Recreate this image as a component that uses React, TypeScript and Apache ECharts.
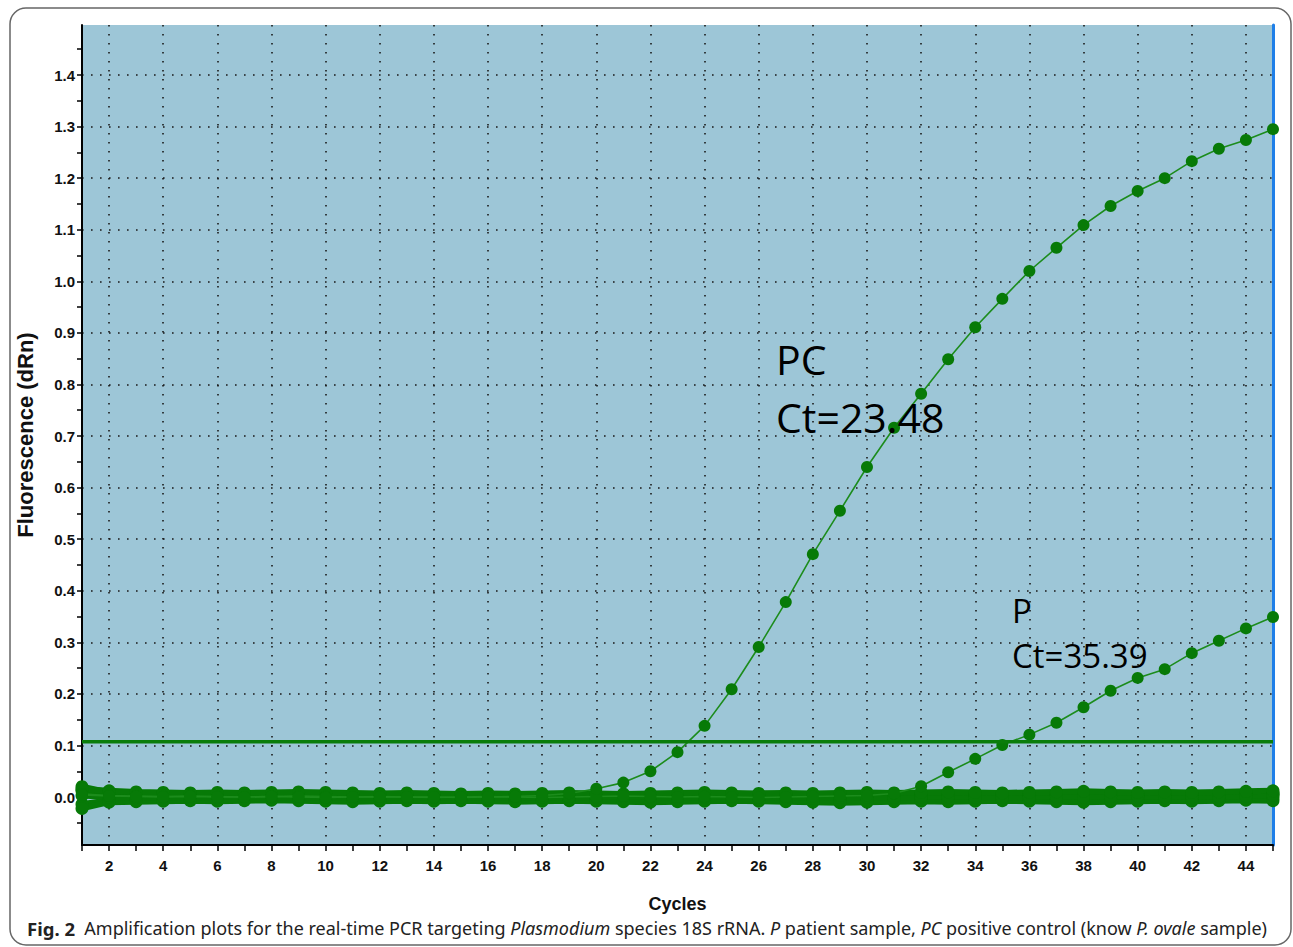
import { useEffect, useRef } from 'react';
import * as echarts from 'echarts';

const cycles = [1, 2, 3, 4, 5, 6, 7, 8, 9, 10, 11, 12, 13, 14, 15, 16, 17, 18, 19, 20, 21, 22, 23, 24, 25, 26, 27, 28, 29, 30, 31, 32, 33, 34, 35, 36, 37, 38, 39, 40, 41, 42, 43, 44, 45];

const pcValues = [0.004, 0.002, 0.001, 0.0, 0.001, 0.0, 0.0, 0.001, 0.0, -0.001, 0.0, 0.0, 0.0, 0.0, -0.001, 0.0, 0.001, 0.003, 0.007, 0.016, 0.028, 0.05, 0.087, 0.138, 0.209, 0.291, 0.378, 0.471, 0.555, 0.64, 0.716, 0.782, 0.849, 0.911, 0.966, 1.02, 1.065, 1.109, 1.146, 1.175, 1.2, 1.233, 1.257, 1.274, 1.295];

const pValues = [0.006, 0.003, 0.002, 0.001, 0.002, 0.001, 0.0, 0.001, 0.002, 0.001, 0.0, 0.001, 0.0, -0.001, 0.0, 0.001, 0.0, -0.001, 0.0, 0.001, 0.002, 0.001, 0.0, 0.001, 0.0, -0.001, 0.0, 0.001, 0.002, 0.003, 0.007, 0.021, 0.048, 0.074, 0.101, 0.121, 0.144, 0.174, 0.206, 0.231, 0.248, 0.279, 0.303, 0.327, 0.349];

const neg1 = [0.012, 0.006, 0.004, 0.003, 0.002, 0.003, 0.002, 0.003, 0.002, 0.001, 0.002, 0.001, 0.002, 0.001, 0.002, 0.001, 0.0, 0.001, 0.002, 0.001, 0.002, 0.001, 0.002, 0.001, 0.002, 0.003, 0.002, 0.001, 0.002, 0.003, 0.002, 0.001, 0.002, 0.003, 0.002, 0.003, 0.004, 0.003, 0.002, 0.003, 0.004, 0.003, 0.004, 0.005, 0.006];
const neg2 = [-0.014, -0.006, -0.004, -0.005, -0.004, -0.003, -0.004, -0.003, -0.004, -0.005, -0.004, -0.005, -0.004, -0.003, -0.004, -0.005, -0.006, -0.005, -0.004, -0.005, -0.004, -0.005, -0.006, -0.005, -0.004, -0.003, -0.004, -0.005, -0.006, -0.005, -0.004, -0.005, -0.004, -0.003, -0.004, -0.005, -0.004, -0.005, -0.004, -0.003, -0.004, -0.005, -0.004, -0.003, -0.002];
const neg3 = [0.02, 0.009, 0.008, 0.007, 0.006, 0.005, 0.006, 0.005, 0.004, 0.005, 0.004, 0.003, 0.004, 0.005, 0.004, 0.003, 0.002, 0.003, 0.004, 0.005, 0.004, 0.003, 0.004, 0.005, 0.006, 0.005, 0.004, 0.005, 0.004, 0.005, 0.006, 0.005, 0.004, 0.005, 0.006, 0.005, 0.006, 0.007, 0.006, 0.005, 0.006, 0.007, 0.008, 0.007, 0.008];
const neg4 = [-0.022, -0.01, -0.009, -0.008, -0.007, -0.008, -0.007, -0.006, -0.007, -0.008, -0.009, -0.008, -0.007, -0.008, -0.007, -0.008, -0.009, -0.008, -0.007, -0.008, -0.009, -0.01, -0.009, -0.008, -0.007, -0.008, -0.009, -0.01, -0.011, -0.01, -0.009, -0.008, -0.009, -0.008, -0.007, -0.008, -0.009, -0.01, -0.009, -0.008, -0.007, -0.008, -0.007, -0.006, -0.007];
const neg5 = [0.003, 0.0, -0.001, 0.0, -0.001, 0.0, 0.001, 0.0, -0.001, 0.0, -0.001, -0.002, -0.001, 0.0, -0.001, -0.002, -0.001, 0.0, -0.001, 0.0, 0.001, 0.0, -0.001, 0.0, 0.001, 0.0, -0.001, -0.002, -0.001, 0.0, -0.001, 0.0, 0.001, 0.0, -0.001, 0.0, 0.001, 0.0, 0.001, 0.002, 0.001, 0.0, 0.001, 0.002, 0.003];
const neg6 = [0.015, 0.012, 0.01, 0.009, 0.008, 0.009, 0.008, 0.009, 0.01, 0.009, 0.008, 0.007, 0.008, 0.007, 0.006, 0.007, 0.006, 0.007, 0.008, 0.007, 0.006, 0.007, 0.008, 0.009, 0.008, 0.007, 0.008, 0.007, 0.008, 0.009, 0.008, 0.009, 0.01, 0.009, 0.008, 0.009, 0.01, 0.011, 0.01, 0.009, 0.01, 0.009, 0.01, 0.011, 0.012];
const negatives = [neg1, neg2, neg3, neg4, neg5, neg6];

const thresholdValue = 0.107;
const thresholdCycles = [1, 45];

const xLabelCycles = [2, 4, 6, 8, 10, 12, 14, 16, 18, 20, 22, 24, 26, 28, 30, 32, 34, 36, 38, 40, 42, 44];
const yTickValues = [-0.05, 0, 0.05, 0.1, 0.15, 0.2, 0.25, 0.3, 0.35, 0.4, 0.45, 0.5, 0.55, 0.6, 0.65, 0.7, 0.75, 0.8, 0.85, 0.9, 0.95, 1.0, 1.05, 1.1, 1.15, 1.2, 1.25, 1.3, 1.35, 1.4, 1.45];
const yLabelValues = [0, 0.1, 0.2, 0.3, 0.4, 0.5, 0.6, 0.7, 0.8, 0.9, 1.0, 1.1, 1.2, 1.3, 1.4];

const Y_MIN = -0.093;
const Y_MAX = 1.497;

const LINE_GREEN = '#1c8c1c';
const MARK_GREEN = '#077a07';

export default function App() {
  const ref = useRef<HTMLDivElement>(null);
  useEffect(() => {
    const chart = echarts.init(ref.current!, null, { renderer: 'svg' });
    const toPts = (arr: number[]) => arr.map((v, i) => [cycles[i], v]);
    const dotted = { color: '#1a1a1a', width: 1.6, type: [1.6, 7.4] as any };
    const tickFont = { fontFamily: 'Liberation Sans', fontWeight: 'bold' as const, fontSize: 15, color: '#111' };

    const negSeries = negatives.map((arr, k) => ({
      type: 'line',
      name: 'neg' + (k + 1),
      data: toPts(arr),
      xAxisIndex: 0,
      yAxisIndex: 0,
      symbol: 'circle',
      symbolSize: 13,
      showSymbol: true,
      itemStyle: { color: MARK_GREEN },
      lineStyle: { color: MARK_GREEN, width: 6 },
      z: 3,
    }));

    const option: any = {
      animation: false,
      backgroundColor: '#ffffff',
      grid: {
        left: 82,
        right: 20,
        top: 25,
        bottom: 102,
        show: true,
        backgroundColor: '#9dc6d7',
        borderWidth: 0,
      },
      xAxis: [
        {
          type: 'value',
          min: 1,
          max: 45,
          interval: 1,
          position: 'bottom',
          name: 'Cycles',
          nameLocation: 'middle',
          nameGap: 50,
          nameTextStyle: { fontFamily: 'Liberation Sans', fontWeight: 'bold', fontSize: 18, color: '#111' },
          axisLine: { show: true, onZero: false, lineStyle: { color: '#000', width: 2 } },
          axisTick: { show: true, length: 6, lineStyle: { color: '#000', width: 1.5 } },
          axisLabel: {
            ...tickFont,
            margin: 13,
            formatter: (v: number) => (xLabelCycles.indexOf(v) >= 0 ? String(v) : ''),
          },
          splitLine: { show: false },
        },
        {
          type: 'value',
          min: 1,
          max: 45,
          position: 'bottom',
          axisLine: { show: false },
          axisTick: { show: false, customValues: xLabelCycles },
          axisLabel: { show: false, customValues: xLabelCycles },
          splitLine: { show: true, lineStyle: dotted },
        },
      ],
      yAxis: [
        {
          type: 'value',
          min: Y_MIN,
          max: Y_MAX,
          position: 'left',
          name: 'Fluorescence (dRn)',
          nameLocation: 'middle',
          nameRotate: 90,
          nameGap: 46,
          nameTextStyle: { fontFamily: 'Liberation Sans', fontWeight: 'bold', fontSize: 22, color: '#111' },
          axisLine: { show: true, onZero: false, lineStyle: { color: '#000', width: 2 } },
          axisTick: { show: true, length: 5, customValues: yTickValues, lineStyle: { color: '#000', width: 1.5 } },
          axisLabel: {
            ...tickFont,
            margin: 7,
            customValues: yLabelValues,
            formatter: (v: number) => v.toFixed(1),
          },
          splitLine: { show: false },
        },
        {
          type: 'value',
          min: Y_MIN,
          max: Y_MAX,
          position: 'right',
          axisLine: { show: true, onZero: false, lineStyle: { color: '#1f7fe8', width: 3 } },
          axisTick: { show: false, customValues: yLabelValues },
          axisLabel: { show: false, customValues: yLabelValues },
          splitLine: { show: true, lineStyle: dotted },
        },
      ],
      series: [
        ...negSeries,
        {
          type: 'line',
          name: 'P',
          data: toPts(pValues),
          symbol: 'circle',
          symbolSize: 12,
          itemStyle: { color: MARK_GREEN },
          lineStyle: { color: LINE_GREEN, width: 1.6 },
          z: 4,
        },
        {
          type: 'line',
          name: 'PC',
          data: toPts(pcValues),
          symbol: 'circle',
          symbolSize: 12,
          itemStyle: { color: MARK_GREEN },
          lineStyle: { color: LINE_GREEN, width: 1.6 },
          z: 4,
        },
        {
          type: 'line',
          name: 'Threshold',
          data: thresholdCycles.map((c) => [c, thresholdValue]),
          symbol: 'none',
          lineStyle: { color: '#0a7d0a', width: 3.5 },
          z: 5,
        },
      ],
      graphic: [
        {
          type: 'rect',
          shape: { x: 10, y: 8, width: 1281, height: 937, r: 16 },
          style: { fill: 'none', stroke: '#666', lineWidth: 1.5 },
          silent: true,
        },
        {
          type: 'text', x: 776, y: 359, z: 10,
          style: { text: 'PC', fontFamily: 'Open Sans', fontSize: 41, fill: '#000', verticalAlign: 'middle' },
        },
        {
          type: 'text', x: 776, y: 417, z: 10,
          style: { text: 'Ct=23.48', fontFamily: 'Open Sans', fontSize: 41, fill: '#000', verticalAlign: 'middle' },
        },
        {
          type: 'text', x: 1012, y: 610, z: 10,
          style: { text: 'P', fontFamily: 'Open Sans', fontSize: 33, fill: '#000', verticalAlign: 'middle' },
        },
        {
          type: 'text', x: 1012, y: 655, z: 10,
          style: { text: 'Ct=35.39', fontFamily: 'Open Sans', fontSize: 33, fill: '#000', verticalAlign: 'middle' },
        },
        {
          type: 'text', x: 27, y: 928, z: 10,
          style: {
            text: '{b|Fig. 2}  Amplification plots for the real-time PCR targeting {i|Plasmodium} species 18S rRNA. {i|P} patient sample, {i|PC} positive control (know {i|P. ovale} sample)',
            fontFamily: 'Noto Sans',
            fontSize: 18,
            fill: '#222',
            verticalAlign: 'middle',
            rich: {
              b: { fontFamily: 'Noto Sans', fontSize: 18.5, fontWeight: 'bold', fill: '#222' },
              i: { fontFamily: 'Noto Sans', fontSize: 18, fontStyle: 'italic', fill: '#222' },
            },
          },
        },
      ],
    };
    chart.setOption(option);
    return () => chart.dispose();
  }, []);
  return (
    <div
      ref={ref}
      style={{ position: 'fixed', left: 0, top: 0, width: 1293, height: 947, background: '#fff' }}
    />
  );
}
